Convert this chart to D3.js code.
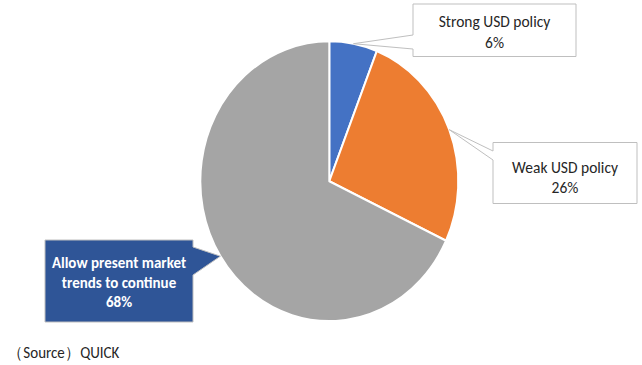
<!DOCTYPE html>
<html>
<head>
<meta charset="utf-8">
<script src="https://cdn.jsdelivr.net/npm/d3@7"></script>
<style>
  html, body { margin: 0; padding: 0; background: #fff; }
  svg { display: block; }
</style>
</head>
<body>
<svg id="chart" width="642" height="365"></svg>
<script>
// Survey answers on US currency policy
const categories = ["Strong USD policy", "Weak USD policy", "Allow present market trends to continue"];
const values = [6, 26, 68];
const colors = ["#4472C4", "#ED7D31", "#A5A5A5"];
const labelLines = [
  ["Strong USD policy", "6%"],
  ["Weak USD policy", "26%"],
  ["Allow present market", "trends to continue", "68%"]
];
const sourceText = "（Source）QUICK";

const svg = d3.select("#chart");
const font = "Carlito, 'Liberation Sans', Arial, sans-serif";

const cx = 329.3, cy = 181.2, r = 129, squash = 1.085;

const pie = d3.pie().sort(null).value(d => d)(values);
const arc = d3.arc().innerRadius(0).outerRadius(r);

const g = svg.append("g")
  .attr("transform", `translate(${cx},${cy}) scale(1,${squash})`);

g.selectAll("path.slice")
  .data(pie)
  .join("path")
  .attr("class", "slice")
  .attr("d", arc)
  .attr("fill", (d, i) => colors[i])
  .attr("stroke", "#fff")
  .attr("stroke-width", 2)
  .attr("stroke-linejoin", "round");

// Point on the (vertically stretched) rim at the middle of a slice
function rimPoint(d) {
  const a = (d.startAngle + d.endAngle) / 2;
  return [cx + Math.sin(a) * r, cy - Math.cos(a) * r * squash];
}

// Callout boxes: box rect, wedge attachment on the box, text style
const callouts = [
  { box: [413, 4, 163, 52.5], side: "left", base: [35, 49],
    fill: "#fff", stroke: "#BFBFBF", color: "#262626", weight: 400, size: 15.5, lineY: [26.5, 47.5] },
  { box: [493, 142.5, 144, 61], side: "left", base: [151, 160],
    fill: "#fff", stroke: "#BFBFBF", color: "#262626", weight: 400, size: 15.5, lineY: [172.5, 193.3] },
  { box: [45, 240, 148, 82], side: "right", base: [247, 275],
    fill: "#2F5597", stroke: "#BFBFBF", color: "#fff", weight: 700, size: 15, lineY: [268.3, 288, 307] }
];

callouts.forEach((c, i) => {
  const [x, y, w, h] = c.box;
  const tip = rimPoint(pie[i]);
  const ex = c.side === "left" ? x : x + w;
  let pts;
  if (c.side === "left") {
    pts = [[x, y], [x + w, y], [x + w, y + h], [x, y + h], [x, c.base[1]], tip, [x, c.base[0]]];
  } else {
    pts = [[x, y], [x + w, y], [ex, c.base[0]], tip, [ex, c.base[1]], [x + w, y + h], [x, y + h]];
  }
  svg.append("path")
    .attr("d", d3.line()(pts) + "Z")
    .attr("fill", c.fill)
    .attr("stroke", c.stroke)
    .attr("stroke-width", 1);

  svg.append("g").selectAll("text")
    .data(labelLines[i])
    .join("text")
    .attr("transform", (d, j) => `translate(${x + w / 2},${c.lineY[j]}) scale(1,${squash})`)
    .attr("text-anchor", "middle")
    .attr("font-family", font)
    .attr("font-size", c.size)
    .attr("font-weight", c.weight)
    .attr("fill", c.color)
    .text(d => d);
});

svg.append("text")
  .attr("transform", `translate(8,358) scale(1,${squash})`)
  .attr("font-family", font)
  .attr("font-size", 15)
  .attr("fill", "#262626")
  .text(sourceText);
</script>
</body>
</html>
